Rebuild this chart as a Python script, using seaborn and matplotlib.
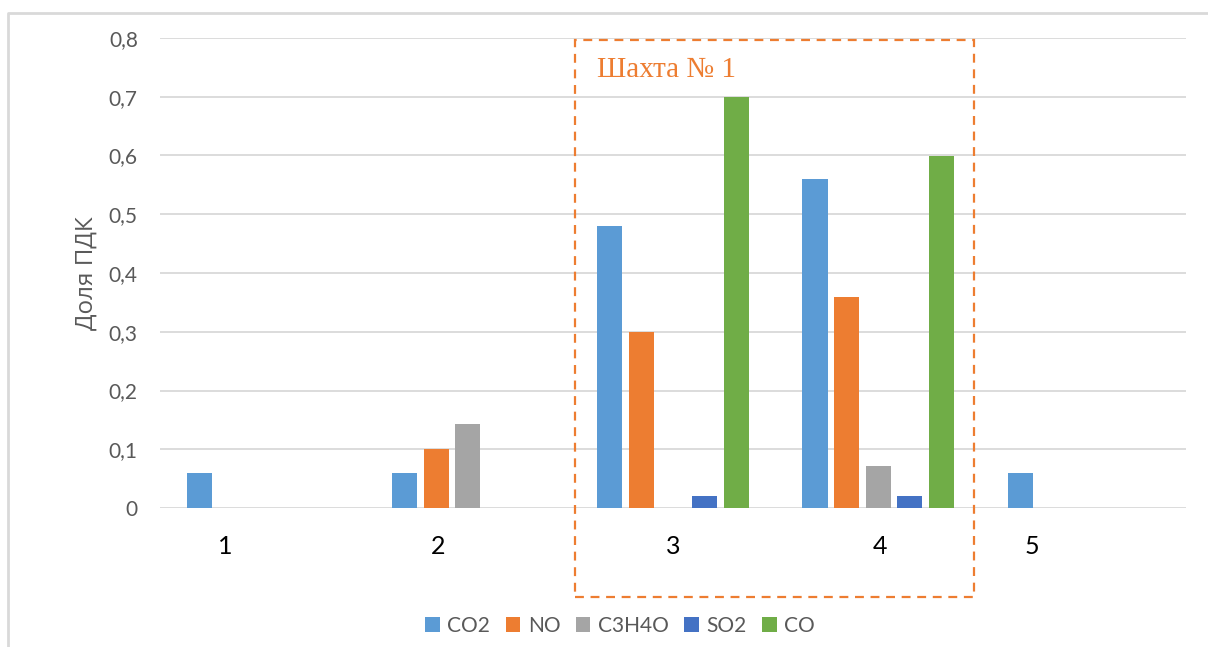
import numpy as np
import pandas as pd
import matplotlib.pyplot as plt
import matplotlib.patches as patches
from matplotlib.lines import Line2D
import seaborn as sns

# data
categories = ['1', '2', '3', '4', '5']
gases = ['CO2', 'NO', 'C3H4O', 'SO2', 'CO']
co2 = [0.06, 0.06, 0.48, 0.56, 0.06]
no = [0.0, 0.10, 0.30, 0.36, 0.0]
c3h4o = [0.0, 0.143, 0.0, 0.071, 0.0]
so2 = [0.0, 0.0, 0.02, 0.02, 0.0]
co = [0.0, 0.0, 0.70, 0.60, 0.0]
# offsets of the hand-placed category labels (in category units)
label_shift = [-0.18, -0.145, 0.0, 0.01, -0.25]

colors = ['#5B9BD5', '#ED7D31', '#A5A5A5', '#4472C4', '#70AD47']
grey = '#595959'

df = pd.DataFrame({'cat': categories * 5,
                   'gas': np.repeat(gases, 5),
                   'val': co2 + no + c3h4o + so2 + co})

sns.set_theme(style='white')
plt.rcParams['font.family'] = ['Lato', 'DejaVu Sans']

fig = plt.figure(figsize=(12.08, 6.47), dpi=100)
ax = fig.add_axes([160 / 1208, 1 - 508 / 647, 1026 / 1208, 470 / 647])

sns.barplot(data=df, x='cat', y='val', hue='gas', hue_order=gases,
            order=categories, palette=colors, width=0.77, gap=0.2,
            linewidth=0, saturation=1, ax=ax, legend=True)

ax.set_ylim(0, 0.8)
ax.set_xlim(-0.5, 4.5)
ax.set_yticks(np.arange(0, 0.81, 0.1))
ax.set_yticklabels(['0'] + [f'{v:.1f}'.replace('.', ',') for v in np.arange(0.1, 0.81, 0.1)],
                   color=grey, fontsize=15)
ax.tick_params(axis='y', length=0, pad=16)
ax.grid(axis='y', color='#D9D9D9', linewidth=1.3)
ax.set_axisbelow(True)
for s in ax.spines.values():
    s.set_visible(False)
ax.set_xticks([])
ax.set_xlabel('')
ax.set_ylabel('Доля ПДК', color=grey, fontsize=17.5, labelpad=7,
              family=['Open Sans', 'DejaVu Sans'])

for i, lab in enumerate(categories):
    ax.text(i + label_shift[i], -0.065, lab, ha='center', va='center',
            fontsize=18, color='black')

ax.legend(loc='center', bbox_to_anchor=(0.5 + (620 - 673) / 1026, (508 - 626) / 470),
          ncol=5, frameon=False, fontsize=15, handlelength=0.7, handleheight=0.7,
          handletextpad=0.35, columnspacing=0.75, labelcolor=grey)

# dashed box marking the first mine
box = patches.Rectangle((575 / 1208, 1 - 597 / 647), 399 / 1208, 557 / 647,
                        transform=fig.transFigure, fill=False,
                        edgecolor='#ED7D31', linestyle=(0, (4, 3)), linewidth=1.6)
fig.patches.append(box)
fig.text(597 / 1208, 1 - 70 / 647, 'Шахта № 1', color='#ED7D31', fontsize=21,
         family=['Liberation Serif', 'DejaVu Serif'], va='center', ha='left')

# outer chart frame
fig.lines.append(Line2D([8 / 1208, 8 / 1208, 1.0], [0.0, 1 - 13 / 647, 1 - 13 / 647],
                        transform=fig.transFigure, color='#D9D9D9', linewidth=2))

fig.savefig('out.png', dpi=100)
